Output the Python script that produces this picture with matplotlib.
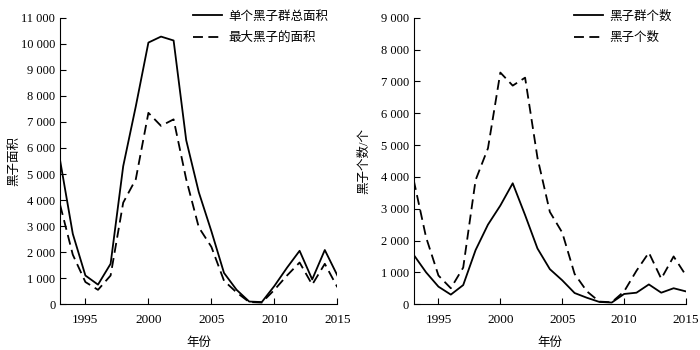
import numpy as np
import matplotlib
matplotlib.use('Agg')
import matplotlib.pyplot as plt
from matplotlib.ticker import FuncFormatter

plt.rcParams['font.family'] = ['Liberation Serif', 'Noto Sans CJK SC']
plt.rcParams['font.size'] = 9

# 数据
years = list(range(1993, 2016))
group_area = [5500, 2700, 1100, 750, 1550, 5300, 7600, 10050, 10280, 10130, 6300, 4300,
              2800, 1200, 550, 100, 80, 700, 1400, 2050, 950, 2080, 1100]
max_area = [3800, 1900, 850, 550, 1100, 3900, 4800, 7350, 6850, 7100, 4800, 2950,
            2200, 900, 450, 80, 60, 550, 1100, 1600, 750, 1550, 650]
group_count = [1550, 1000, 550, 300, 600, 1700, 2500, 3100, 3800, 2800, 1750, 1100,
               750, 350, 200, 70, 50, 320, 360, 620, 360, 500, 400]
spot_count = [3900, 2100, 900, 500, 1150, 3900, 4900, 7280, 6870, 7120, 4600, 2900,
              2250, 950, 400, 80, 60, 400, 1050, 1620, 800, 1500, 900]

xticks = [1995, 2000, 2005, 2010, 2015]


def thousands(v, pos):
    return '{:,}'.format(int(v)).replace(',', ' ')


def style_ax(ax, ymax, ylabel, legend_x, ylabel_x):
    ax.spines['top'].set_visible(False)
    ax.spines['right'].set_visible(False)
    ax.set_xlim(1993, 2015)
    ax.set_ylim(0, ymax)
    ax.set_yticks(np.arange(0, ymax + 1, 1000))
    ax.set_xticks(xticks)
    ax.yaxis.set_major_formatter(FuncFormatter(thousands))
    ax.tick_params(direction='in', length=4, width=0.8, labelsize=9.5)
    ax.tick_params(axis='y', labelsize=9)
    ax.tick_params(axis='x', pad=7)
    ax.set_xlabel('年份', fontsize=9, labelpad=8)
    ax.set_ylabel(ylabel, fontsize=9)
    ax.yaxis.set_label_coords(ylabel_x, 0.5)
    ax.legend(frameon=False, loc='upper left', fontsize=9, handlelength=2.3,
              handletextpad=0.5, borderpad=0, borderaxespad=0.0, labelspacing=0.75,
              bbox_to_anchor=(legend_x, 1.025))


fig = plt.figure(figsize=(7, 3.5), dpi=100)
ax1 = fig.add_axes([0.086, 0.131, 0.396, 0.818])
ax2 = fig.add_axes([0.591, 0.131, 0.389, 0.818])

ax1.plot(years, group_area, color='black', lw=1.3, label='单个黑子群总面积')
ax1.plot(years, max_area, color='black', lw=1.3, dashes=(5.5, 3), label='最大黑子的面积')
style_ax(ax1, 11000, '黑子面积', 0.48, -0.145)

ax2.plot(years, group_count, color='black', lw=1.3, label='黑子群个数')
ax2.plot(years, spot_count, color='black', lw=1.3, dashes=(5.5, 3), label='黑子个数')
style_ax(ax2, 9000, '黑子个数/个', 0.59, -0.16)

fig.savefig('out.png', dpi=100)
